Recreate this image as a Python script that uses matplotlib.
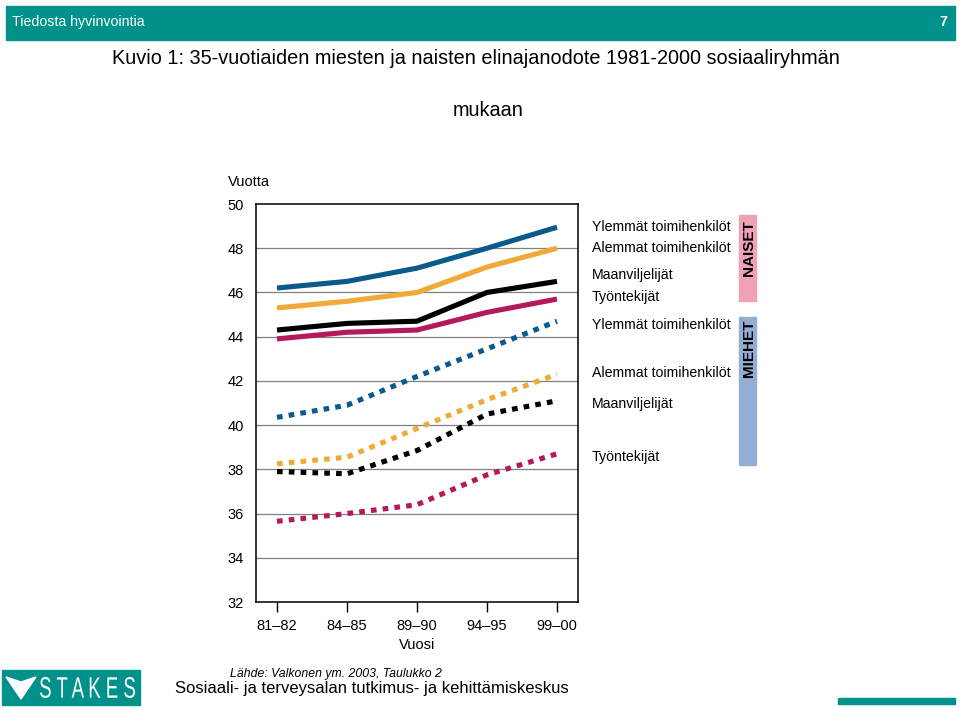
import matplotlib.pyplot as plt
from matplotlib.patches import Rectangle, Polygon, PathPatch
from matplotlib.textpath import TextPath
from matplotlib.font_manager import FontProperties
from matplotlib.transforms import Affine2D, IdentityTransform

plt.rcParams['font.family'] = ['Liberation Sans', 'DejaVu Sans']

periods = ['81–82', '84–85', '89–90', '94–95', '99–00']
groups = ['Ylemmät toimihenkilöt', 'Alemmat toimihenkilöt', 'Maanviljelijät', 'Työntekijät']

women = [
    [46.2, 46.5, 47.1, 48.0, 48.95],
    [45.3, 45.6, 46.0, 47.15, 48.0],
    [44.3, 44.6, 44.7, 46.0, 46.5],
    [43.9, 44.2, 44.3, 45.1, 45.7],
]
men = [
    [40.35, 40.9, 42.2, 43.45, 44.7],
    [38.25, 38.55, 39.85, 41.15, 42.3],
    [37.9, 37.8, 38.85, 40.5, 41.1],
    [35.65, 36.0, 36.4, 37.75, 38.7],
]
colors = ['#0b5a8c', '#f0aa3a', '#000000', '#b5195b']
teal = '#00928a'

fig = plt.figure(figsize=(9.6, 7.08), dpi=100)
ax = fig.add_axes([256 / 960, 1 - 602 / 708, 322 / 960, 398 / 708])

x = range(len(periods))
for vals, c in zip(women, colors):
    ax.plot(x, vals, color=c, lw=3.7, solid_joinstyle='round', solid_capstyle='butt')
for vals, c in zip(men, colors):
    ax.plot(x, vals, color=c, lw=3.7, linestyle=(0, (1.1, 1.2)), dash_capstyle='butt')

ax.set_xlim(-0.3, 4.3)
ax.set_ylim(32, 50)
ax.set_yticks(range(32, 51, 2))
ax.set_xticks(list(x))
ax.set_xticklabels(periods)
for g in range(34, 50, 2):
    ax.axhline(g, color='#808080', lw=0.9, zorder=0)
ax.tick_params(axis='y', length=0, pad=9, labelsize=10.5)
ax.tick_params(axis='x', length=7, width=1, pad=5, labelsize=10.5)
for s in ax.spines.values():
    s.set_linewidth(1.1)
ax.set_xlabel('Vuosi', fontsize=10.5, labelpad=4)

# legend labels on the right
def fy(y):
    return 1 - y / 708

label_y = [227, 248, 275, 297, 325, 373, 404, 457]
for lbl, y in zip(groups + groups, label_y):
    fig.text(592 / 960, fy(y), lbl, fontsize=10.2, va='center', ha='left')

fig.patches.append(Rectangle((739 / 960, fy(301)), 17 / 960, 86 / 708,
                             transform=fig.transFigure, color='#f0a1b5'))
fig.patches.append(Rectangle((739 / 960, fy(465)), 17 / 960, 148 / 708,
                             transform=fig.transFigure, color='#94aed3'))
fig.text(749 / 960, fy(248), 'NAISET', rotation=90, fontsize=11, weight='bold',
         ha='center', va='center')
fig.text(749 / 960, fy(348), 'MIEHET', rotation=90, fontsize=11, weight='bold',
         ha='center', va='center')

fig.text(228 / 960, fy(182), 'Vuotta', fontsize=10.5, va='center')

# header
fig.patches.append(Rectangle((6 / 960, fy(40)), 949 / 960, 34 / 708,
                             transform=fig.transFigure, color=teal))
fig.text(12 / 960, fy(22), 'Tiedosta hyvinvointia', color='white', fontsize=10.2,
         va='center')
fig.text(947 / 960, fy(22), '7', color='white', fontsize=10.2, va='center',
         ha='right', weight='bold')

fig.text(476 / 960, fy(58), 'Kuvio 1: 35-vuotiaiden miesten ja naisten elinajanodote '
         '1981-2000 sosiaaliryhmän', fontsize=14.3, ha='center', va='center')
fig.text(488 / 960, fy(110), 'mukaan', fontsize=14.3, ha='center', va='center')

# footer: STAKES logo
fig.patches.append(Rectangle((2 / 960, fy(705)), 138 / 960, 35 / 708,
                             transform=fig.transFigure, color=teal))
fig.patches.append(Polygon([(6 / 960, fy(677)), (21 / 960, fy(682)),
                            (36 / 960, fy(677)), (21 / 960, fy(699))],
                           closed=True, transform=fig.transFigure, color='white'))
tp = TextPath((0, 0), 'S T A K E S', size=30, prop=FontProperties(family='Liberation Sans'))
ext = tp.get_extents()
logo_tr = (Affine2D().translate(-ext.x0, -ext.y0)
           .scale(95 / ext.width, 21 / ext.height)
           .translate(40, 708 - 698))
fig.patches.append(PathPatch(tp, transform=logo_tr + IdentityTransform(),
                             color='white', lw=0))

fig.text(230 / 960, fy(674), 'Lähde: Valkonen ym. 2003, Taulukko 2', fontsize=8.8,
         style='italic', va='center')
fig.text(175 / 960, fy(688), 'Sosiaali- ja terveysalan tutkimus- ja kehittämiskeskus',
         fontsize=12, va='center')
fig.patches.append(Rectangle((838 / 960, fy(704)), 117 / 960, 6 / 708,
                             transform=fig.transFigure, color=teal))

fig.savefig('out.png', dpi=100)
